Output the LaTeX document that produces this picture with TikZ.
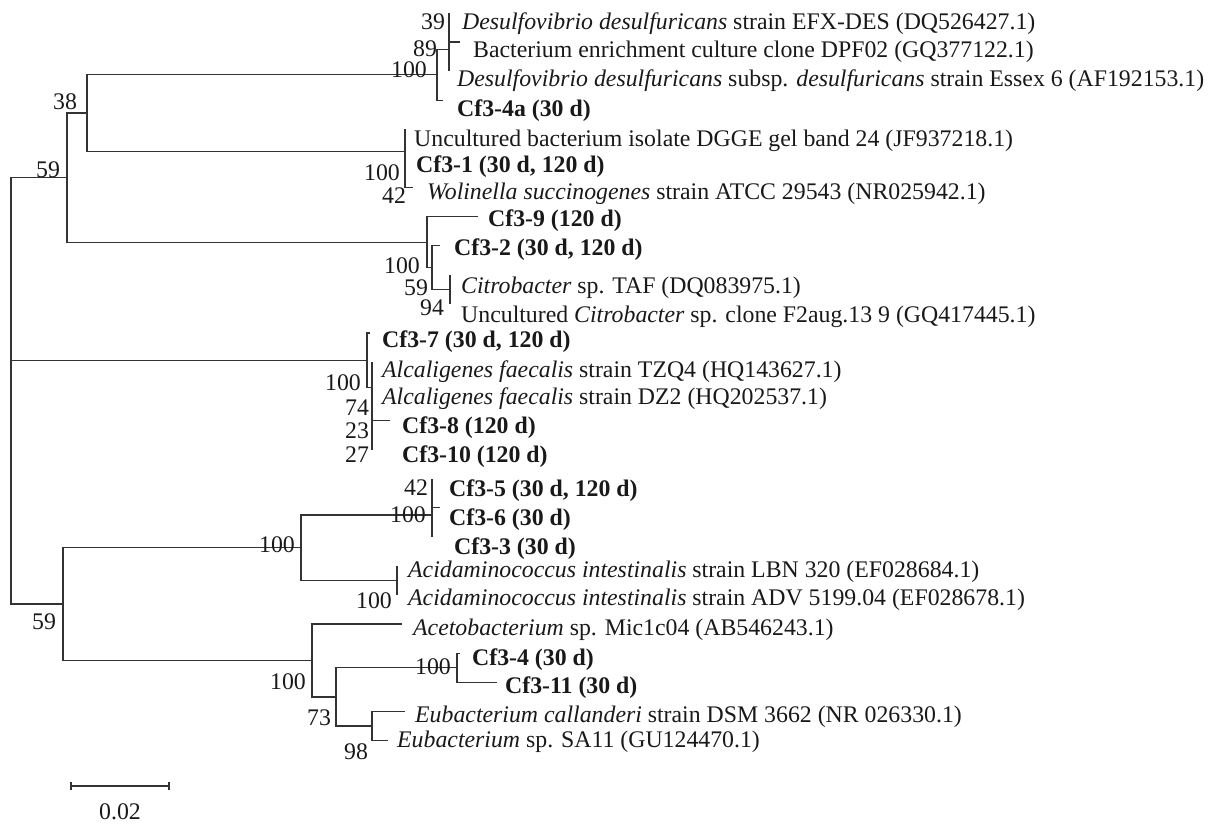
\documentclass[tikz,border=0pt]{standalone}
\usepackage{fontspec}
\setmainfont{Liberation Serif}
\begin{document}
\begin{tikzpicture}[x=1pt,y=-1pt,
  branch/.style={line width=1.3pt,draw=black!80},
  leaf/.style={anchor=base west,inner sep=0pt,font=\fontsize{23.8}{28}\selectfont,text=black!90},
  boot/.style={anchor=center,inner sep=0pt,font=\fontsize{23.8}{28}\selectfont,text=black!90}]
\useasboundingbox (0,0) rectangle (1209,826);
% internal nodes
\coordinate (root) at (11,390.85);
\coordinate (nA) at (67,177.6);
\coordinate (nAlc) at (367,360.4);
\coordinate (nB) at (63,604.1);
\coordinate (n38) at (87,113);
\coordinate (nDes) at (437,74.8);
\coordinate (n89) at (449,49.4);
\coordinate (n39) at (449,27.55);
\coordinate (nWol) at (405,151.2);
\coordinate (n42W) at (405,173);
\coordinate (n427) at (427,242.2);
\coordinate (n432) at (432,267.6);
\coordinate (n94) at (450,289.5);
\coordinate (n74) at (372,387.6);
\coordinate (n23) at (372,413);
\coordinate (n27) at (372,435);
\coordinate (nAc) at (301,547.7);
\coordinate (n100C) at (432,515);
\coordinate (n42C) at (432,493);
\coordinate (nAcid) at (397,580.5);
\coordinate (n312) at (312,660.5);
\coordinate (n336) at (336,696.9);
\coordinate (n457) at (457,667.7);
\coordinate (n372) at (372,726);
% leaf branch ends
\coordinate (l0) at (449,13);
\coordinate (l1) at (460,42.1);
\coordinate (l2) at (449,71.2);
\coordinate (l3) at (443,100.3);
\coordinate (l4) at (405,129.4);
\coordinate (l5) at (405,158.5);
\coordinate (l6) at (413,187.6);
\coordinate (l7) at (478,216.7);
\coordinate (l8) at (440,245.8);
\coordinate (l9) at (450,274.9);
\coordinate (l10) at (450,304);
\coordinate (l11) at (370,333.1);
\coordinate (l12) at (372,362.2);
\coordinate (l13) at (372,391.3);
\coordinate (l14) at (390,420.4);
\coordinate (l15) at (372,449.5);
\coordinate (l16) at (432,478.6);
\coordinate (l17) at (440,507.7);
\coordinate (l18) at (432,536.8);
\coordinate (l19) at (397,566);
\coordinate (l20) at (397,595);
\coordinate (l21) at (402,624.1);
\coordinate (l22) at (460,653.2);
\coordinate (l23) at (497,682.3);
\coordinate (l24) at (405,711.4);
\coordinate (l25) at (388,740.5);
% branches
\foreach \p/\c in {root/nA,root/nAlc,root/nB,
  nA/n38,nA/n427,n38/nDes,n38/nWol,nDes/n89,nDes/l3,n89/n39,n89/l2,n39/l0,n39/l1,
  nWol/l4,nWol/n42W,n42W/l5,n42W/l6,
  n427/l7,n427/n432,n432/l8,n432/n94,n94/l9,n94/l10,
  nAlc/l11,nAlc/n74,n74/l12,n74/n23,n23/l13,n23/n27,n27/l14,n27/l15,
  nB/nAc,nB/n312,nAc/n100C,nAc/nAcid,n100C/n42C,n100C/l18,n42C/l16,n42C/l17,nAcid/l19,nAcid/l20,
  n312/l21,n312/n336,n336/n457,n336/n372,n457/l22,n457/l23,n372/l24,n372/l25}
  {\draw[branch] (\p) |- (\c);}
% leaf labels
\node[leaf] (t0) at (462,30) {\textit{Desulfovibrio desulfuricans} strain EFX-DES (DQ526427.1)};
\node[leaf] (t1) at (473,58) {Bacterium enrichment culture clone DPF02 (GQ377122.1)};
\node[leaf] (t2) at (457,87) {\textit{Desulfovibrio desulfuricans} subsp. \textit{desulfuricans} strain Essex 6 (AF192153.1)};
\node[leaf] (t3) at (457,117) {\textbf{Cf3-4a (30 d)}};
\node[leaf] (t4) at (414,147) {Uncultured bacterium isolate DGGE gel band 24 (JF937218.1)};
\node[leaf] (t5) at (416,173) {\textbf{Cf3-1 (30 d, 120 d)}};
\node[leaf] (t6) at (427,200) {\textit{Wolinella succinogenes} strain ATCC 29543 (NR025942.1)};
\node[leaf] (t7) at (488,227) {\textbf{Cf3-9 (120 d)}};
\node[leaf] (t8) at (454,255) {\textbf{Cf3-2 (30 d, 120 d)}};
\node[leaf] (t9) at (461,293) {\textit{Citrobacter} sp. TAF (DQ083975.1)};
\node[leaf] (t10) at (461,322) {Uncultured \textit{Citrobacter} sp. clone F2aug.13 9 (GQ417445.1)};
\node[leaf] (t11) at (382,347) {\textbf{Cf3-7 (30 d, 120 d)}};
\node[leaf] (t12) at (382,377) {\textit{Alcaligenes faecalis} strain TZQ4 (HQ143627.1)};
\node[leaf] (t13) at (382,404) {\textit{Alcaligenes faecalis} strain DZ2 (HQ202537.1)};
\node[leaf] (t14) at (402,433) {\textbf{Cf3-8 (120 d)}};
\node[leaf] (t15) at (402,462) {\textbf{Cf3-10 (120 d)}};
\node[leaf] (t16) at (449,496) {\textbf{Cf3-5 (30 d, 120 d)}};
\node[leaf] (t17) at (449,525) {\textbf{Cf3-6 (30 d)}};
\node[leaf] (t18) at (454,554) {\textbf{Cf3-3 (30 d)}};
\node[leaf] (t19) at (408,577) {\textit{Acidaminococcus intestinalis} strain LBN 320 (EF028684.1)};
\node[leaf] (t20) at (408,605) {\textit{Acidaminococcus intestinalis} strain ADV 5199.04 (EF028678.1)};
\node[leaf] (t21) at (413,635) {\textit{Acetobacterium} sp. Mic1c04 (AB546243.1)};
\node[leaf] (t22) at (472,665) {\textbf{Cf3-4 (30 d)}};
\node[leaf] (t23) at (505,693) {\textbf{Cf3-11 (30 d)}};
\node[leaf] (t24) at (415,722) {\textit{Eubacterium callanderi} strain DSM 3662 (NR 026330.1)};
\node[leaf] (t25) at (397,747) {\textit{Eubacterium} sp. SA11 (GU124470.1)};
% bootstrap values
\node[boot] (b59a) at (48,170) {59};
\node[boot] (b38) at (65,102) {38};
\node[boot] (b39) at (433,22) {39};
\node[boot] (b89) at (425,49) {89};
\node[boot] (b100a) at (409,70) {100};
\node[boot] (b100b) at (382,173) {100};
\node[boot] (b42a) at (394,196) {42};
\node[boot] (b100c) at (402,266) {100};
\node[boot] (b59b) at (416,288) {59};
\node[boot] (b94) at (432,308) {94};
\node[boot] (b100d) at (343,383) {100};
\node[boot] (b74) at (357,408) {74};
\node[boot] (b23) at (357,431) {23};
\node[boot] (b27) at (357,455) {27};
\node[boot] (b42b) at (416,488) {42};
\node[boot] (b100e) at (408,515) {100};
\node[boot] (b100f) at (277,545) {100};
\node[boot] (b100g) at (374,601) {100};
\node[boot] (b100h) at (288,682) {100};
\node[boot] (b73) at (319,718) {73};
\node[boot] (b100i) at (433,667) {100};
\node[boot] (b98) at (356,752) {98};
\node[boot] (b59c) at (44,622) {59};
% scale bar
\coordinate (sb1) at (71,786);
\coordinate (sb2) at (169,786);
\draw[branch] (sb1) -- (sb2);
\draw[branch] ([yshift=-4pt]sb1) -- ([yshift=4pt]sb1);
\draw[branch] ([yshift=-4pt]sb2) -- ([yshift=4pt]sb2);
\node[boot] (sbl) at (120,812) {0.02};
\end{tikzpicture}
\end{document}
